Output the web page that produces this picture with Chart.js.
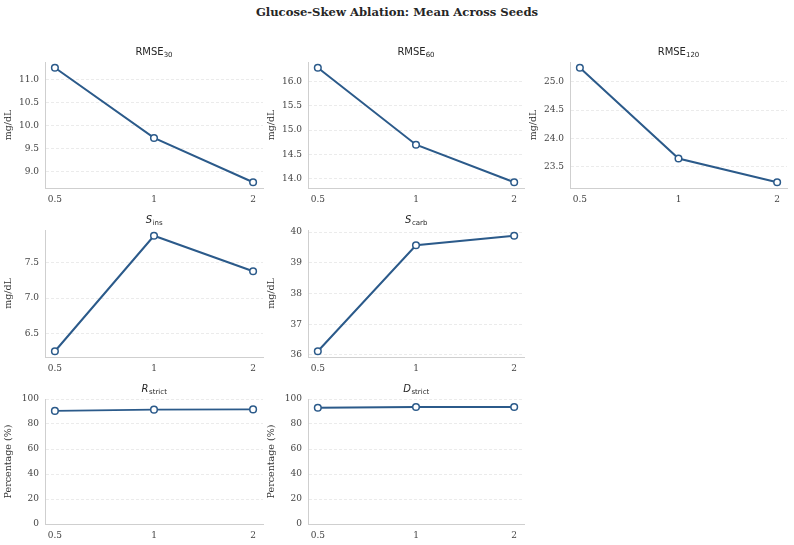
<!DOCTYPE html>
<html>
<head>
<meta charset="utf-8">
<script src="https://cdn.jsdelivr.net/npm/chart.js@4.4.1/dist/chart.umd.min.js"></script>
<style>
  html, body { margin: 0; padding: 0; background: #ffffff; }
  #fig { position: relative; width: 794px; height: 545px; overflow: hidden; }
  #suptitle {
    position: absolute; left: 0; top: 5px; width: 794px; text-align: center;
    font-family: "DejaVu Serif", serif; font-weight: bold; font-size: 11.6px; color: #262626;
  }
  .panel { position: absolute; }
</style>
</head>
<body>
<div id="fig">
  <div id="suptitle">Glucose-Skew Ablation: Mean Across Seeds</div>
</div>
<script>
// ── DATA ─────────────────────────────────────────────────
const SKEW       = [0.5, 1, 2];
const RMSE_30    = [11.25, 9.73, 8.77];
const RMSE_60    = [16.28, 14.70, 13.93];
const RMSE_120   = [25.25, 23.64, 23.22];
const S_INS      = [6.25, 7.88, 7.38];
const S_CARB     = [36.12, 39.57, 39.88];
const R_STRICT   = [90.5, 91.5, 91.7];
const D_STRICT   = [93.0, 93.6, 93.6];

const LINE_COLOR = "#2b5a8a";
const GRID_COLOR = "#e6e6e6";
const SPINE      = "#cfcfcf";
const TICK_FONT  = { family: "DejaVu Serif", size: 9 };

// ── PANEL TITLE PLUGIN (text with subscript) ────────────
const panelTitle = {
  id: "panelTitle",
  afterDraw(chart, args, opts) {
    const { ctx, chartArea } = chart;
    const mainFont = (opts.italic ? "italic " : "") + "10px 'DejaVu Sans'";
    const subFont  = "7px 'DejaVu Sans'";
    ctx.save();
    ctx.fillStyle = "#262626";
    ctx.textBaseline = "alphabetic";
    ctx.font = mainFont;
    const w1 = ctx.measureText(opts.main).width;
    ctx.font = subFont;
    const w2 = ctx.measureText(opts.sub).width;
    const x0 = (chartArea.left + chartArea.right) / 2 - (w1 + w2) / 2;
    const y0 = chartArea.top - 7;
    ctx.font = mainFont;
    ctx.fillText(opts.main, x0, y0);
    ctx.font = subFont;
    ctx.fillText(opts.sub, x0 + w1 + (opts.italic ? 0.5 : 0), y0 + 2);
    ctx.restore();
  }
};

// ── PANEL FACTORY ───────────────────────────────────────
function makePanel(p) {
  const div = document.createElement("div");
  div.className = "panel";
  const W = 44 + p.plotW + 8, H = 22 + p.plotH + 20;
  Object.assign(div.style, {
    left: (p.axisX - 44) + "px", top: (p.plotTop - 22) + "px",
    width: W + "px", height: H + "px"
  });
  const canvas = document.createElement("canvas");
  div.appendChild(canvas);
  document.getElementById("fig").appendChild(div);

  let yMin = p.yMin, yMax = p.yMax;
  if (yMin === undefined) {
    const lo = Math.min(...p.values), hi = Math.max(...p.values);
    const m = (hi - lo) * 0.05;
    yMin = lo - m; yMax = hi + m;
  }

  new Chart(canvas, {
    type: "line",
    data: {
      datasets: [{
        data: SKEW.map((x, i) => ({ x, y: p.values[i] })),
        borderColor: LINE_COLOR,
        borderWidth: 2,
        pointRadius: 3.3,
        pointBorderWidth: 1.5,
        pointBackgroundColor: "#ffffff",
        pointBorderColor: LINE_COLOR,
        tension: 0,
      }],
    },
    options: {
      responsive: true,
      maintainAspectRatio: false,
      animation: false,
      layout: { padding: { top: 22, right: 8, left: 0, bottom: 0 } },
      plugins: {
        legend: { display: false },
        tooltip: { enabled: false },
        panelTitle: { main: p.main, sub: p.sub, italic: p.italic },
      },
      scales: {
        x: {
          type: "logarithmic",
          min: Math.pow(2, -1.1),
          max: Math.pow(2, 1.1),
          afterBuildTicks: s => { s.ticks = SKEW.map(v => ({ value: v })); },
          afterFit: s => { s.height = 20; },
          grid: { display: false, drawTicks: false },
          border: { color: SPINE, width: 1 },
          ticks: { font: TICK_FONT, color: "#444", padding: 6, maxRotation: 0,
                   callback: v => String(v) },
        },
        y: {
          min: yMin,
          max: yMax,
          afterFit: s => { s.width = 44; },
          grid: { color: GRID_COLOR, lineWidth: 0.8, drawTicks: false },
          border: { color: SPINE, width: 1, dash: [3, 2] },
          ticks: { font: TICK_FONT, color: "#444", padding: 6, stepSize: p.step,
                   includeBounds: false,
                   callback: v => v.toFixed(p.dec) },
          title: { display: true, text: p.ylabel, color: "#333",
                   font: { family: "DejaVu Serif", size: 9.5 }, padding: { top: 2, bottom: 2 } },
        },
      },
    },
    plugins: [panelTitle],
  });
}

const COLS = [ { axisX: 45, plotW: 218 }, { axisX: 308, plotW: 216 }, { axisX: 570, plotW: 217 } ];
const ROWS = [ { plotTop: 62, plotH: 126 }, { plotTop: 230, plotH: 127 }, { plotTop: 399, plotH: 125 } ];

const PANELS = [
  { r: 0, c: 0, values: RMSE_30,  main: "RMSE", sub: "30",  step: 0.5, dec: 1, ylabel: "mg/dL" },
  { r: 0, c: 1, values: RMSE_60,  main: "RMSE", sub: "60",  step: 0.5, dec: 1, ylabel: "mg/dL" },
  { r: 0, c: 2, values: RMSE_120, main: "RMSE", sub: "120", step: 0.5, dec: 1, ylabel: "mg/dL" },
  { r: 1, c: 0, values: S_INS,    main: "S", sub: "ins",  italic: true, step: 0.5, dec: 1, ylabel: "mg/dL" },
  { r: 1, c: 1, values: S_CARB,   main: "S", sub: "carb", italic: true, step: 1, dec: 0, ylabel: "mg/dL" },
  { r: 2, c: 0, values: R_STRICT, main: "R", sub: "strict", italic: true, step: 20, dec: 0,
    ylabel: "Percentage (%)", yMin: 0, yMax: 100 },
  { r: 2, c: 1, values: D_STRICT, main: "D", sub: "strict", italic: true, step: 20, dec: 0,
    ylabel: "Percentage (%)", yMin: 0, yMax: 100 },
];

PANELS.forEach(p => makePanel(Object.assign({}, p, COLS[p.c], ROWS[p.r])));
</script>
</body>
</html>
